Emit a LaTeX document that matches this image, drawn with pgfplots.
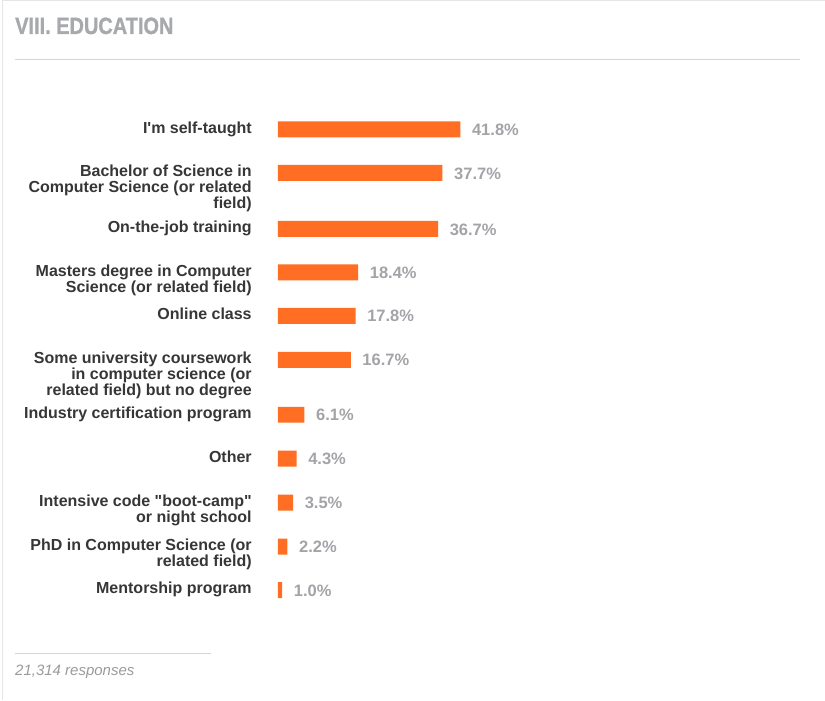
\documentclass[border=0pt]{standalone}
\usepackage{pgfplots}
\pgfplotsset{compat=1.18}
\usepackage{pgfplotstable}
\usepackage{fontspec}
\setmainfont{Liberation Sans}
\newfontfamily\lab{Liberation Sans}
\newfontfamily\titlef{Liberation Sans Bold}[FakeBold=1.3]

\definecolor{barc}{HTML}{FF6E22}
\definecolor{labc}{HTML}{363636}
\definecolor{valc}{HTML}{A3A3A8}
\definecolor{titlec}{HTML}{A7A9AC}
\definecolor{rulec}{HTML}{D4D4D4}
\definecolor{framec}{HTML}{E6E6E6}
\definecolor{footc}{HTML}{9A9A9A}

% pos = row of the bar centre (px from top), share = percent
\pgfplotstableread{
pos share
129.5 41.8
173 37.7
229 36.7
272.5 18.4
316 17.8
360 16.7
415 6.1
459 4.3
503 3.5
547 2.2
590.5 1.0
}\edudata

\begin{document}
\begin{tikzpicture}[x=1pt,y=1pt]
\path (0,0) rectangle (825,700);
\draw[framec,line width=1pt] (2.5,0) -- (2.5,699.5) -- (825,699.5);
\node[anchor=base west, inner sep=0pt, text=titlec,
  font=\titlef\fontsize{23.5}{23.5}\selectfont] at (15,666)
  {\scalebox{0.85}[1]{VIII. EDUCATION}};
\draw[rulec, line width=1pt] (15,640) -- (800,640);

\begin{axis}[
  at={(278pt,0pt)}, anchor=south west,
  scale only axis, width=218.5pt, height=700pt,
  xmin=0, xmax=50, ymin=0, ymax=700, y dir=reverse,
  axis line style={draw=none},
  xtick=\empty,
  ytick={129.5,173,229,272.5,316,360,415,459,503,547,590.5},
  yticklabels={
    {I'm self-taught},
    {Bachelor of Science in\\Computer Science (or related\\field)},
    {On-the-job training},
    {Masters degree in Computer\\Science (or related field)},
    {Online class},
    {Some university coursework\\in computer science (or\\related field) but no degree},
    {Industry certification program},
    {Other},
    {Intensive code "boot-camp"\\or night school},
    {PhD in Computer Science (or\\related field)},
    {Mentorship program}},
  major tick length=0pt,
  yticklabel style={anchor=north east, align=right, inner sep=0pt,
    xshift=-26pt, yshift=8pt, text=labc,
    font=\lab\bfseries\fontsize{16}{16}\selectfont},
  clip=false,
  point meta=x,
  nodes near coords={\pgfmathprintnumber[fixed,fixed zerofill,precision=1]{\pgfplotspointmeta}\%},
  every node near coord/.append style={anchor=west, inner sep=0pt,
    xshift=11.5pt, yshift=-0.5pt, text=valc,
    font=\lab\bfseries\fontsize{16.5}{16.5}\selectfont},
  /pgf/number format/assume math mode=true,
]
\addplot[xbar, bar width=16pt, fill=barc, draw=none]
  table[x=share, y=pos] {\edudata};
\end{axis}

\draw[rulec, line width=1pt] (15,46) -- (211,46);
\node[anchor=west, inner sep=0pt, text=footc,
  font=\itshape\fontsize{15}{15}\selectfont] at (15,28) {21,314 responses};
\end{tikzpicture}
\end{document}
